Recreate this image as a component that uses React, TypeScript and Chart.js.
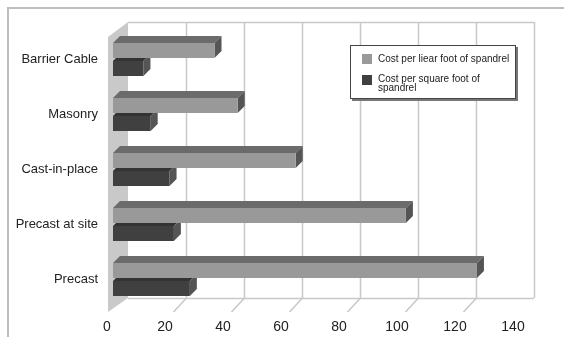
import React, { useEffect, useRef } from "react";
import { Chart, registerables } from "chart.js";

Chart.register(...registerables);

const categories = ["Barrier Cable", "Masonry", "Cast-in-place", "Precast at site", "Precast"];
const linearFootCost = [35, 43, 63, 101, 125.5];
const squareFootCost = [10.5, 13, 19.5, 21, 26.5];
const seriesNames = ["Cost per liear foot of spandrel", "Cost per square foot of spandrel"];
const xTicksMax = 140;
const xTickStep = 20;

const LIGHT = "#999999";
const DARK = "#404040";
const FONT = '"Liberation Sans", Arial, sans-serif';

const BAR_D = 7;
const WALL_DX = 15;
const WALL_DY = 10;

const wallPlugin = {
  id: "wall3d",
  beforeDatasetsDraw(chart: any) {
    const { ctx, chartArea, scales } = chart;
    const xs = scales.x;
    const x0 = xs.getPixelForValue(0);
    const x1 = xs.getPixelForValue(xTicksMax);
    const backTop = chartArea.top - WALL_DY;
    const backBottom = chartArea.bottom - 9;
    const bx0 = x0 + WALL_DX;
    const bx1 = x1 + WALL_DX;
    ctx.save();
    // outer frame
    ctx.strokeStyle = "#bdbdbd";
    ctx.lineWidth = 2;
    ctx.strokeRect(8, 8, 600, 400);
    // side wall
    ctx.fillStyle = "#c9c9c9";
    ctx.beginPath();
    ctx.moveTo(bx0, backTop);
    ctx.lineTo(x0 - 5, backTop + 15);
    ctx.lineTo(x0 - 5, backBottom + 14);
    ctx.lineTo(bx0, backBottom);
    ctx.closePath();
    ctx.fill();
    // back wall gridlines
    ctx.strokeStyle = "#c8c8c8";
    ctx.lineWidth = 1.5;
    const ticks = xs.ticks;
    for (const t of ticks) {
      const px = Math.round(xs.getPixelForValue(t.value) + WALL_DX) + 0.5;
      if (t.value > 0) {
        ctx.beginPath();
        ctx.moveTo(px, backTop);
        ctx.lineTo(px, backBottom);
        ctx.stroke();
      }
      if (t.value > 0 && t.value < xTicksMax) {
        ctx.beginPath();
        ctx.moveTo(px, backBottom);
        ctx.lineTo(px - 13, backBottom + 14);
        ctx.stroke();
      }
    }
    ctx.beginPath();
    ctx.moveTo(bx0, backTop + 0.5);
    ctx.lineTo(bx1, backTop + 0.5);
    ctx.moveTo(bx0, backBottom + 0.5);
    ctx.lineTo(bx1, backBottom + 0.5);
    ctx.stroke();
    // bar top and side faces
    const faces = [
      { top: "#6b6b6b", side: "#555555" },
      { top: "#333333", side: "#555555" },
    ];
    for (let d = chart.data.datasets.length - 1; d >= 0; d--) {
      const meta = chart.getDatasetMeta(d);
      for (const el of meta.data as any[]) {
        const p = el.getProps(["x", "y", "base", "height"], true);
        const top = p.y - p.height / 2;
        const bottom = p.y + p.height / 2;
        ctx.fillStyle = faces[d].top;
        ctx.beginPath();
        ctx.moveTo(p.base, top);
        ctx.lineTo(p.base + BAR_D, top - BAR_D);
        ctx.lineTo(p.x + BAR_D, top - BAR_D);
        ctx.lineTo(p.x, top);
        ctx.closePath();
        ctx.fill();
        ctx.fillStyle = faces[d].side;
        ctx.beginPath();
        ctx.moveTo(p.x, top);
        ctx.lineTo(p.x + BAR_D, top - BAR_D);
        ctx.lineTo(p.x + BAR_D, bottom - BAR_D);
        ctx.lineTo(p.x, bottom);
        ctx.closePath();
        ctx.fill();
      }
    }
    ctx.restore();
  },
};

const legendPlugin = {
  id: "boxLegend",
  afterDraw(chart: any) {
    const { ctx } = chart;
    const x = 350, y = 45, w = 166, h = 54;
    ctx.save();
    ctx.fillStyle = "#777777";
    ctx.fillRect(x + 2, y + 2, w, h);
    ctx.fillStyle = "#ffffff";
    ctx.fillRect(x, y, w, h);
    ctx.strokeStyle = "#444444";
    ctx.lineWidth = 1;
    ctx.strokeRect(x + 0.5, y + 0.5, w - 1, h - 1);
    ctx.fillStyle = LIGHT;
    ctx.fillRect(x + 12, y + 9, 10, 10);
    ctx.fillStyle = DARK;
    ctx.fillRect(x + 12, y + 30, 10, 10);
    ctx.fillStyle = "#222222";
    ctx.font = `10px ${FONT}`;
    ctx.textBaseline = "middle";
    ctx.fillText(seriesNames[0], x + 28, y + 14);
    const words = seriesNames[1];
    const cut = words.lastIndexOf(" ");
    ctx.fillText(words.slice(0, cut), x + 28, y + 34);
    ctx.fillText(words.slice(cut + 1), x + 28, y + 43);
    ctx.restore();
  },
};

export default function App() {
  const ref = useRef<HTMLCanvasElement>(null);
  useEffect(() => {
    if (!ref.current) return;
    const chart = new Chart(ref.current, {
      type: "bar",
      data: {
        labels: categories,
        datasets: [
          { label: seriesNames[0], data: linearFootCost, backgroundColor: LIGHT, borderWidth: 0 },
          { label: seriesNames[1], data: squareFootCost, backgroundColor: DARK, borderWidth: 0 },
        ],
      },
      options: {
        indexAxis: "y",
        responsive: false,
        animation: false,
        datasets: { bar: { categoryPercentage: 0.655, barPercentage: 0.833 } },
        layout: { padding: { top: 32, right: 45, left: 0, bottom: 0 } },
        plugins: { legend: { display: false }, tooltip: { enabled: false } },
        scales: {
          x: {
            min: 0,
            max: xTicksMax,
            afterFit(axis: any) { axis.height = 30; },
            grid: { display: false, drawTicks: false },
            border: { display: false },
            ticks: {
              stepSize: xTickStep,
              padding: 12,
              labelOffset: -6,
              color: "#222222",
              font: { size: 14, family: FONT },
            },
          },
          y: {
            afterFit(axis: any) { axis.width = 113; },
            grid: { display: false, drawTicks: false },
            border: { display: false },
            ticks: {
              padding: 15,
              color: "#222222",
              font: { size: 13, family: FONT },
            },
          },
        },
      },
      plugins: [wallPlugin, legendPlugin],
    } as any);
    return () => chart.destroy();
  }, []);
  return (
    <div style={{ position: "fixed", left: 0, top: 0, width: 564, height: 337, background: "#fff" }}>
      <canvas ref={ref} width={564} height={337} />
    </div>
  );
}
